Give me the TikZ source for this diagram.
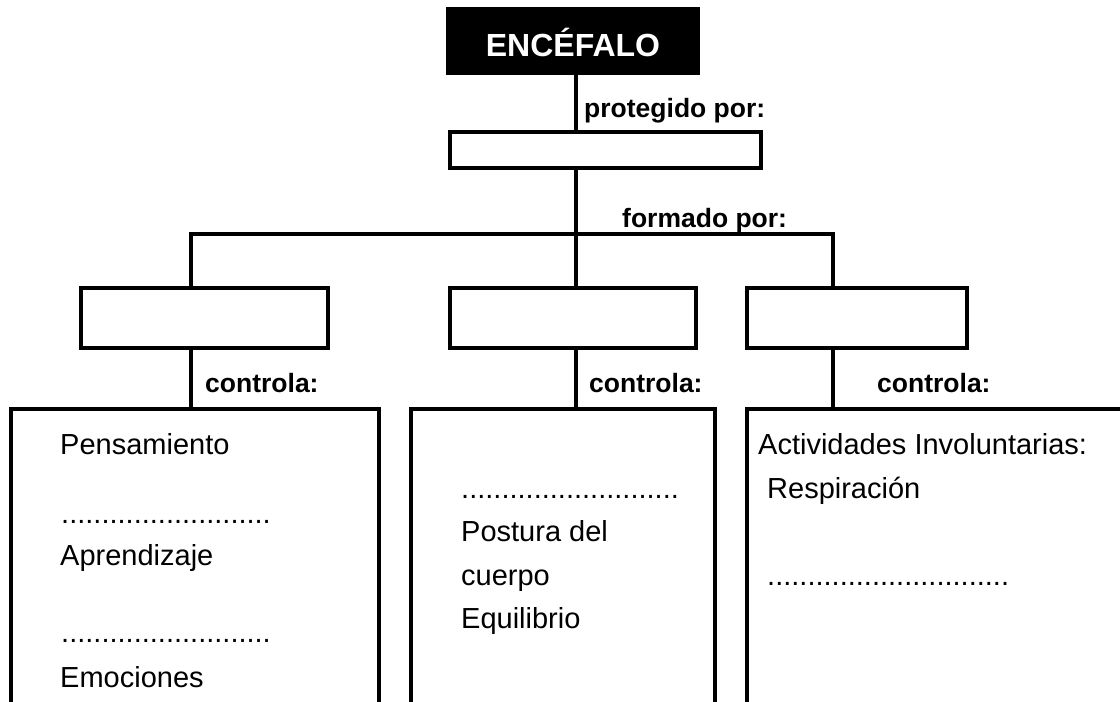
\documentclass[tikz,border=0pt]{standalone}
\usepackage{fontspec}
\setmainfont{Liberation Sans}

\begin{document}
\begin{tikzpicture}
  [
    x=1pt,y=-1pt,
    link/.style={line width=3.7pt},
    box/.style={draw,line width=3.7pt,inner sep=0pt,minimum height=60pt},
    panel/.style={inner sep=0pt,minimum height=320pt},
    tag/.style={anchor=base west,inner sep=0pt,font={\fontsize{26.5}{30}\selectfont\bfseries}},
    item/.style={anchor=base west,inner sep=0pt,font={\fontsize{29}{34}\selectfont}}
  ]
  \useasboundingbox (0,0) rectangle (1120,702);
  % top
  \node[fill=black,text=white,inner sep=0pt,minimum width=254pt,minimum height=68pt,
        text height=30pt,text depth=0pt,font={\fontsize{32}{36}\selectfont\bfseries}]
        (encefalo) at (573,41) {ENCÉFALO};
  \node[box,minimum width=311pt,minimum height=36pt] (craneo) at (605.5,150) {};
  % bus
  \coordinate (trunk) at (576,234);
  \coordinate (busL) at (191,234);
  \coordinate (busR) at (833,234);
  % second row
  \node[box,minimum width=247pt] (cerebro) at (204.5,318) {};
  \node[box,minimum width=246pt] (cerebelo) at (573,318) {};
  \node[box,minimum width=220pt] (bulbo) at (857,318) {};
  % third row (open at the bottom)
  \node[panel,minimum width=368pt] (funcA) at (195,569) {};
  \node[panel,minimum width=304pt] (funcB) at (563,569) {};
  \node[panel,minimum width=420pt] (funcC) at (957,569) {};
  \draw[link] (funcA.south west) |- (funcA.north east) -- (funcA.south east);
  \draw[link] (funcB.south west) |- (funcB.north east) -- (funcB.south east);
  \draw[link] (funcC.south west) |- (funcC.north east);
  % edges
  \draw[link] (encefalo.south -| trunk) -- (craneo.north -| trunk);
  \draw[link] (craneo.south -| trunk) -- (cerebelo.north -| trunk);
  \draw[link] (cerebro.north -| busL) |- (busR) -- (bulbo.north -| busR);
  \draw[link] (cerebro.south -| busL) -- (funcA.north -| busL);
  \draw[link] (cerebelo.south -| trunk) -- (funcB.north -| trunk);
  \draw[link] (bulbo.south -| busR) -- (funcC.north -| busR);
  % labels
  \node[tag] (lproteg) at (584,117) {protegido por:};
  \node[tag] (lformado) at (622,227) {formado por:};
  \foreach \x/\n in {205/A,589/B,877/C} {
      \node[tag] (lctrl\n) at (\x,392) {controla:};
  }
  % left panel
  \node[item] (pens) at (60,454) {Pensamiento};
  \node[item] (dotsA) at (61,523) {..........................};
  \node[item] (apren) at (60,565) {Aprendizaje};
  \node[item] (dotsB) at (61,642) {..........................};
  \node[item] (emoc) at (60,687) {Emociones};
  % middle panel
  \node[item] (dotsC) at (461,498) {...........................};
  \node[item] (post) at (461,541) {Postura del};
  \node[item] (cuer) at (461,585) {cuerpo};
  \node[item] (equi) at (461,628) {Equilibrio};
  % right panel
  \node[item] (activ) at (758,454) {Actividades Involuntarias:};
  \node[item] (resp) at (767,498) {Respiración};
  \node[item] (dotsD) at (767,585) {..............................};
\end{tikzpicture}
\end{document}
